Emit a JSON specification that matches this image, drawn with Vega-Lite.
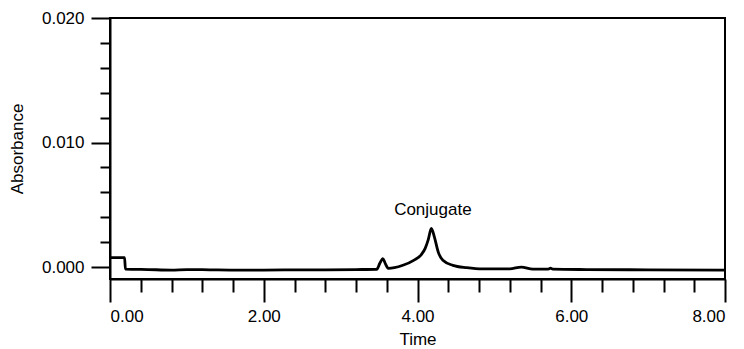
{
  "$schema": "https://vega.github.io/schema/vega-lite/v6.json",
  "width": 615,
  "height": 261,
  "autosize": "none",
  "padding": {"left": 110, "top": 18, "right": 19, "bottom": 70},
  "config": {
    "view": {"stroke": "black", "strokeWidth": 2},
    "font": "Liberation Sans",
    "axis": {"domainColor": "black", "domainWidth": 2, "tickColor": "black", "tickWidth": 2, "grid": false, "labelColor": "black", "titleColor": "black", "labelFont": "Liberation Sans", "titleFont": "Liberation Sans", "labelFontSize": 17, "titleFontSize": 17, "titleFontWeight": "normal"}
  },
  "resolve": {"axis": {"x": "independent", "y": "independent"}, "scale": {"x": "shared", "y": "shared"}},
  "layer": [
    {
      "data": {"values": [
        {"t": 0, "v": 0.00076},
        {"t": 0.19, "v": 0.00076},
        {"t": 0.2, "v": -0.00016},
        {"t": 0.5, "v": -0.0002},
        {"t": 0.8, "v": -0.00024},
        {"t": 1.0, "v": -0.0002},
        {"t": 1.3, "v": -0.00022},
        {"t": 1.6, "v": -0.00024},
        {"t": 2.0, "v": -0.00024},
        {"t": 2.4, "v": -0.00023},
        {"t": 2.8, "v": -0.00022},
        {"t": 3.2, "v": -0.0002},
        {"t": 3.47, "v": -0.00018},
        {"t": 3.51, "v": 0.0003},
        {"t": 3.55, "v": 0.00068},
        {"t": 3.58, "v": 0.0003},
        {"t": 3.62, "v": -0.0001},
        {"t": 3.7, "v": -0.00005},
        {"t": 3.81, "v": 0.00014},
        {"t": 3.95, "v": 0.00054},
        {"t": 4.05, "v": 0.001},
        {"t": 4.1, "v": 0.0015},
        {"t": 4.14, "v": 0.0022},
        {"t": 4.18, "v": 0.0031},
        {"t": 4.22, "v": 0.0024},
        {"t": 4.27, "v": 0.0012},
        {"t": 4.33, "v": 0.00054},
        {"t": 4.46, "v": 0.00014},
        {"t": 4.64, "v": -0.00005},
        {"t": 4.85, "v": -0.00015},
        {"t": 5.2, "v": -0.00015},
        {"t": 5.35, "v": 0.0},
        {"t": 5.5, "v": -0.00016},
        {"t": 5.7, "v": -0.00017},
        {"t": 5.73, "v": -0.00008},
        {"t": 5.76, "v": -0.00017},
        {"t": 6.2, "v": -0.0002},
        {"t": 7.0, "v": -0.00022},
        {"t": 8.0, "v": -0.00024}
      ]},
      "mark": {"type": "line", "color": "black", "strokeWidth": 2.8, "interpolate": "monotone", "clip": true},
      "encoding": {
        "x": {"field": "t", "type": "quantitative", "scale": {"domain": [0, 8], "nice": false, "zero": false},
          "axis": {"orient": "bottom", "values": [0, 2, 4, 6, 8], "format": ".2f", "tickSize": 23, "labelPadding": 6, "title": "Time", "titlePadding": 7}},
        "y": {"field": "v", "type": "quantitative", "scale": {"domain": [-0.00096, 0.02], "nice": false, "zero": false},
          "axis": {"orient": "left", "values": [0, 0.01, 0.02], "format": ".3f", "tickSize": 19, "labelPadding": 7, "title": "Absorbance", "titlePadding": 15}}
      }
    },
    {
      "data": {"values": [{"t": 0, "v": 0}]},
      "mark": {"type": "point", "opacity": 0},
      "encoding": {
        "x": {"field": "t", "type": "quantitative",
          "axis": {"orient": "bottom", "values": [0.4, 0.8, 1.2, 1.6, 2.4, 2.8, 3.2, 3.6, 4.4, 4.8, 5.2, 5.6, 6.4, 6.8, 7.2, 7.6], "tickSize": 13, "labels": false, "domain": false, "title": null}},
        "y": {"field": "v", "type": "quantitative",
          "axis": {"orient": "left", "values": [0.002, 0.004, 0.006, 0.008, 0.012, 0.014, 0.016, 0.018], "tickSize": 10, "labels": false, "domain": false, "title": null}}
      }
    },
    {
      "data": {"values": [{"t": 4.2, "v": 0.0046, "label": "Conjugate"}]},
      "mark": {"type": "text", "fontSize": 17, "font": "Liberation Sans", "color": "black"},
      "encoding": {
        "x": {"field": "t", "type": "quantitative", "axis": null},
        "y": {"field": "v", "type": "quantitative", "axis": null},
        "text": {"field": "label"}
      }
    }
  ]
}
